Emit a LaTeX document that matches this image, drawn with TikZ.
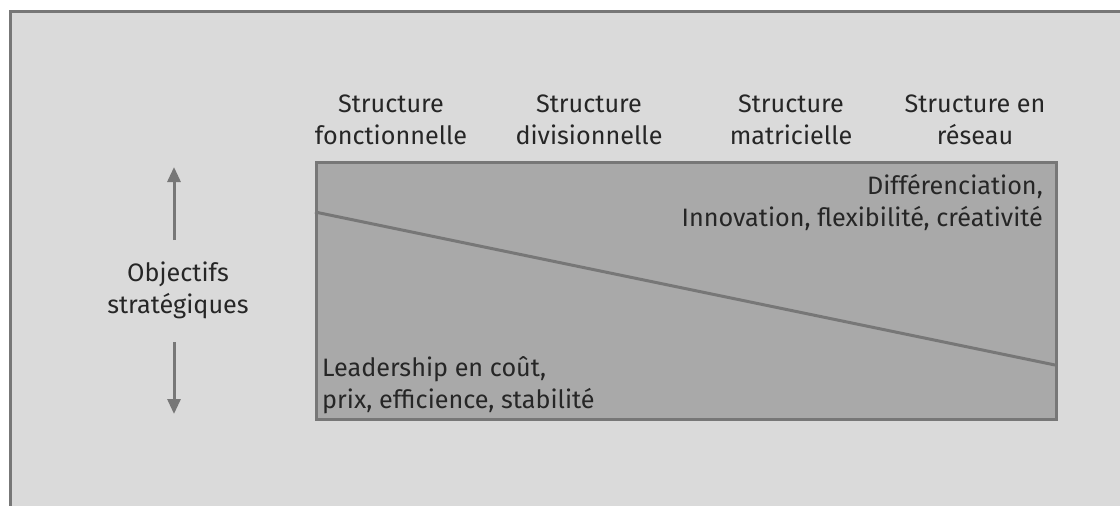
\documentclass[tikz,border=0pt]{standalone}
\usepackage{fontspec}
\setmainfont{Fira Sans}
\usetikzlibrary{arrows.meta}
\definecolor{outerbg}{HTML}{DADADA}
\definecolor{innerbg}{HTML}{A9A9A9}
\definecolor{frame}{HTML}{777777}
\definecolor{txt}{HTML}{262626}
\tikzset{
  lbl/.style={inner sep=0pt, text=txt, font=\fontsize{25.2}{32}\selectfont, align=center},
  arr/.style={draw=frame, line width=3pt, -{Triangle[length=15pt,width=13pt]}}
}
\begin{document}
\begin{tikzpicture}[x=1pt,y=-1pt]
\useasboundingbox (0,0) rectangle (1120,506);
\fill[white] (0,0) rectangle (1120,506);
\draw[fill=outerbg, draw=frame, line width=3pt] (10.5,11.5) rectangle (1130,520);
\node[draw=frame, fill=innerbg, line width=2.5pt, inner sep=0pt, minimum width=740pt, minimum height=257pt, anchor=north west] (box) at (315,161) {};
\coordinate (l1) at (315,212);
\coordinate (l2) at (1055,365);
\draw[frame, line width=3pt] (l1) -- (l2);
\node[lbl] (s1) at (391,120) {Structure\\fonctionnelle};
\node[lbl] (s2) at (589,120) {Structure\\divisionnelle};
\node[lbl] (s3) at (791,120) {Structure\\matricielle};
\node[lbl] (s4) at (975,120) {Structure en\\réseau};
\node[lbl, align=right, anchor=east] (up) at (1043,202) {Différenciation,\\Innovation, flexibilité, créativité};
\node[lbl, align=left, anchor=west] (down) at (322,385) {Leadership en coût,\\prix, efficience, stabilité};
\node[lbl] (obj) at (178,290) {Objectifs\\stratégiques};
\coordinate (a1) at (174,240);
\coordinate (a2) at (174,167);
\coordinate (b1) at (174,342);
\coordinate (b2) at (174,414);
\draw[arr] (a1) -- (a2);
\draw[arr] (b1) -- (b2);
\end{tikzpicture}
\end{document}
